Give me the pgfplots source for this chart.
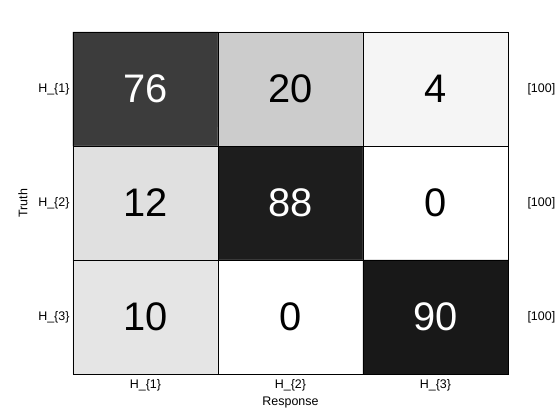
\documentclass[border=0pt]{standalone}
\usepackage{pgfplots}
\pgfplotsset{compat=1.18}
\usepackage{fontspec}
\setmainfont{Liberation Sans}
\begin{document}
\begin{tikzpicture}
\begin{axis}[
  at={(0,0)}, anchor=south west,
  scale only axis, width=435bp, height=342bp,
  xmin=-0.5, xmax=2.5, ymin=-0.5, ymax=2.5,
  y dir=reverse,
  axis on top,
  colormap={wb}{gray(0cm)=(1); gray(1cm)=(0)},
  point meta min=0, point meta max=100,
  xtick={0,1,2}, xticklabels={H\_\{1\},H\_\{2\},H\_\{3\}},
  ytick={0,1,2}, yticklabels={H\_\{1\},H\_\{2\},H\_\{3\}},
  major tick length=0pt,
  extra x ticks={0.5,1.5}, extra x tick labels={},
  extra y ticks={0.5,1.5}, extra y tick labels={},
  extra tick style={grid=major, major grid style={black, line width=0.6pt}, major tick length=0pt},
  tick label style={font=\fontsize{12.5}{14}\selectfont},
  xticklabel style={yshift=-2bp},
  xlabel={Response}, ylabel={Truth},
  label style={font=\fontsize{12.5}{14}\selectfont},
  xlabel style={at={(axis description cs:0.5,0)}, anchor=center, yshift=-29bp},
  ylabel style={at={([xshift=-50bp]axis description cs:0,0.5)}, anchor=center},
  axis line style={black, line width=0.6pt},
  clip=false,
]
\addplot[matrix plot*, mesh/cols=3, point meta=explicit] table[meta=C] {
x y C
0 0 76
1 0 20
2 0 4
0 1 12
1 1 88
2 1 0
0 2 10
1 2 0
2 2 90
};
\addplot[draw=none, mark=none, nodes near coords, point meta=explicit symbolic,
  nodes near coords align=center,
  every node near coord/.style={anchor=center, text=black, font=\fontsize{40}{42}\selectfont}]
  table[meta=L] {
x y L
1 0 20
2 0 4
0 1 12
2 1 0
0 2 10
1 2 0
};
\addplot[draw=none, mark=none, nodes near coords, point meta=explicit symbolic,
  nodes near coords align=center,
  every node near coord/.style={anchor=center, text=white, font=\fontsize{40}{42}\selectfont}]
  table[meta=L] {
x y L
0 0 76
1 1 88
2 2 90
};
\node[anchor=west, font=\fontsize{12.5}{14}\selectfont] at ([xshift=16bp]axis cs:2.5,0) {[100]};
\node[anchor=west, font=\fontsize{12.5}{14}\selectfont] at ([xshift=16bp]axis cs:2.5,1) {[100]};
\node[anchor=west, font=\fontsize{12.5}{14}\selectfont] at ([xshift=16bp]axis cs:2.5,2) {[100]};
\end{axis}
\path[use as bounding box] (-73bp,-46bp) rectangle (487bp,374bp);
\end{tikzpicture}
\end{document}
